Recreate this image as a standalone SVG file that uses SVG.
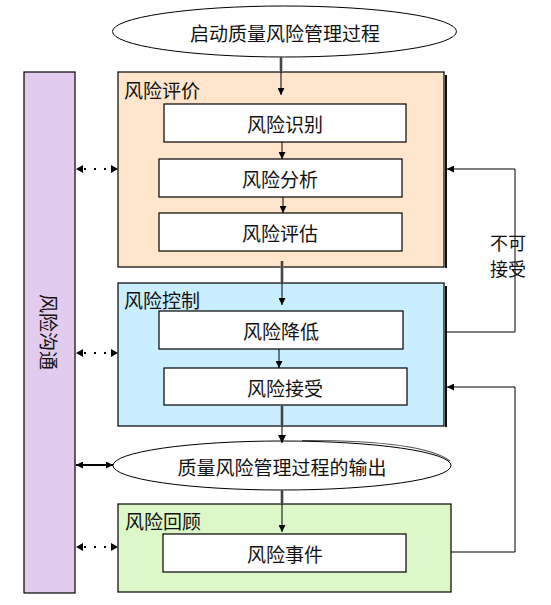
<svg xmlns="http://www.w3.org/2000/svg" width="551" height="605" viewBox="0 0 551 605">
<defs>
<marker id="ah" viewBox="0 0 10 10" refX="10" refY="5" markerWidth="7" markerHeight="7" markerUnits="userSpaceOnUse" orient="auto-start-reverse">
<path d="M0,0 L10,5 L0,10 z" fill="#000"/>
</marker>
<marker id="ahb" viewBox="0 0 10 10" refX="10" refY="5" markerWidth="8" markerHeight="8" markerUnits="userSpaceOnUse" orient="auto-start-reverse">
<path d="M0,0 L10,5 L0,10 z" fill="#000"/>
</marker>
</defs>
<style>
text{font-family:"Noto Sans CJK SC","Liberation Sans",sans-serif;font-size:19px;fill:#111;dominant-baseline:central}
.c{text-anchor:middle}
.box{fill:#fff;stroke:#000;stroke-width:1.2}
.grp{stroke:#000;stroke-width:1.2}
.sh{stroke:#111;stroke-width:2;fill:none}
.ln{stroke:#000;stroke-width:1;fill:none}
.dbl{stroke:#8a8a8a;stroke-width:3;fill:none}
.dot{stroke:#000;stroke-width:2;fill:none;stroke-dasharray:2 8}
</style>
<rect width="551" height="605" fill="#fff"/>

<g id="start">
<ellipse cx="284.5" cy="31.5" rx="172" ry="25.5" fill="#fff" stroke="#000" stroke-width="1"/>
<text class="c" x="285" y="32">启动质量风险管理过程</text>
</g>

<g id="comm">
<rect x="24" y="72" width="51" height="521" fill="#E2CCEE" stroke="#000" stroke-width="1.2"/>
<text class="c" x="49" y="332" transform="rotate(90 49 332)">风险沟通</text>
</g>

<g id="assess">
<line class="sh" x1="446" y1="75" x2="446" y2="268"/>
<rect class="grp" x="118" y="72" width="326" height="195" fill="#FFE5CC"/>
<text x="124" y="89">风险评价</text>
</g>
<g id="identify"><rect class="box" x="164" y="104" width="242" height="38"/><text class="c" x="285" y="123">风险识别</text></g>
<g id="analyze"><rect class="box" x="159" y="159" width="243" height="38"/><text class="c" x="280" y="178">风险分析</text></g>
<g id="evaluate"><rect class="box" x="159" y="213" width="243" height="38"/><text class="c" x="280" y="232">风险评估</text></g>

<g id="control">
<line class="sh" x1="446" y1="286" x2="446" y2="427"/>
<rect class="grp" x="118" y="283" width="326" height="143" fill="#C8EEFF"/>
<text x="124" y="299">风险控制</text>
</g>
<g id="reduce"><rect class="box" x="159" y="311" width="244" height="38"/><text class="c" x="281" y="330">风险降低</text></g>
<g id="accept"><rect class="box" x="164" y="368" width="243" height="37"/><text class="c" x="285" y="387">风险接受</text></g>

<g id="output">
<path d="M300,441.5 Q420,441 448,462" fill="none" stroke="#555" stroke-width="1.2" transform="translate(2,-1)"/>
<ellipse cx="282" cy="465.5" rx="169" ry="24.5" fill="#fff" stroke="#000" stroke-width="1"/>
<text class="c" x="282" y="466">质量风险管理过程的输出</text>
</g>

<g id="review">
<rect class="grp" x="118" y="504" width="333" height="88" fill="#DDF8C8"/>
<text x="125" y="520">风险回顾</text>
</g>
<g id="event"><rect class="box" x="163" y="534" width="243" height="38"/><text class="c" x="285" y="553">风险事件</text></g>

<g id="connectors">
<line class="dbl" x1="281" y1="57" x2="281" y2="72"/>
<line class="ln" x1="281" y1="57" x2="281" y2="95" marker-end="url(#ah)"/>
<line class="ln" x1="282" y1="142" x2="282" y2="159" marker-end="url(#ah)"/>
<line class="ln" x1="283" y1="197" x2="283" y2="213" marker-end="url(#ah)"/>
<line class="dbl" x1="282" y1="261" x2="282" y2="283"/>
<line class="ln" x1="282" y1="261" x2="282" y2="305" marker-end="url(#ah)"/>
<line class="ln" x1="279" y1="349" x2="279" y2="368" marker-end="url(#ah)"/>
<line class="dbl" x1="282" y1="405" x2="282" y2="426"/>
<line class="ln" x1="282" y1="405" x2="282" y2="443" marker-end="url(#ahb)"/>
<line class="dbl" x1="282" y1="490" x2="282" y2="504"/>
<line class="ln" x1="282" y1="490" x2="282" y2="532" marker-end="url(#ah)"/>

<line class="dot" x1="84" y1="169" x2="110" y2="169"/>
<path d="M76,169 L83,165 L83,173 z M118,169 L111,165 L111,173 z" fill="#000"/>
<line class="dot" x1="84" y1="353" x2="110" y2="353"/>
<path d="M76,353 L83,349 L83,357 z M118,353 L111,349 L111,357 z" fill="#000"/>
<line class="dot" x1="84" y1="547" x2="110" y2="547"/>
<path d="M76,547 L83,543 L83,551 z M118,547 L111,543 L111,551 z" fill="#000"/>
<line x1="76" y1="465" x2="113" y2="465" stroke="#000" stroke-width="2" marker-start="url(#ah)" marker-end="url(#ah)"/>

<polyline class="ln" points="445,332 515,332 515,169 447,169" marker-end="url(#ah)"/>
<polyline class="ln" points="451,552 515,552 515,387 447,387" marker-end="url(#ah)"/>
</g>
<g id="label-unacceptable">
<text class="c" x="508" y="242" style="font-size:18px"><tspan x="508" y="242">不可</tspan><tspan x="508" y="268">接受</tspan></text>
</g>
</svg>
